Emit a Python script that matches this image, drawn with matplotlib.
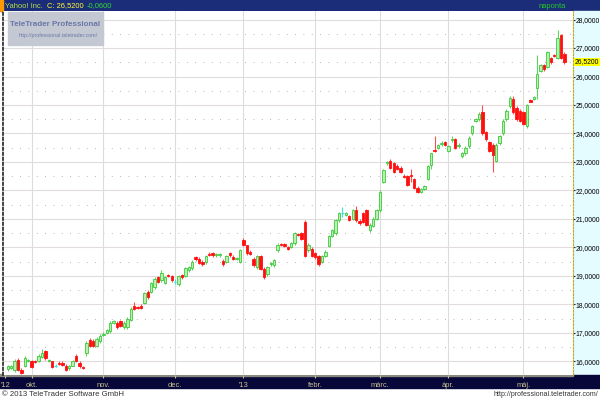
import matplotlib.pyplot as plt
import matplotlib.patches as patches
from matplotlib import font_manager
import numpy as np

# daily OHLC, Yahoo! Inc., Sept 20 2012 .. May 17 2013 (trading days)
opens = [15.72, 15.78, 15.70, 16.05, 15.70, 15.85, 16.00, 16.00, 16.02, 16.00,
         16.15, 16.35, 16.00, 16.00, 15.85, 15.95, 15.95, 15.85, 15.75, 15.85,
         16.20, 15.95, 15.80, 16.30, 16.75, 16.72, 16.55, 16.70, 16.92, 17.00,
         17.05, 17.35, 17.35, 17.40, 17.20, 17.20, 17.45, 17.95, 17.90, 17.95,
         18.05, 18.45, 18.45, 18.60, 18.95, 18.87, 18.75, 19.02, 18.98, 18.80,
         18.70, 19.02, 18.98, 19.20, 19.27, 19.65, 19.60, 19.50, 19.47, 19.78,
         19.80, 19.72, 19.72, 19.54, 19.50, 19.80, 19.68, 19.58, 19.50, 20.27,
         20.07, 19.85, 19.60, 19.30, 19.70, 19.25, 19.05, 19.40, 19.37, 19.90,
         20.12, 20.12, 20.00, 20.03, 20.15, 20.47, 20.50, 20.90, 19.90, 19.95,
         19.80, 19.70, 19.50, 19.70, 20.05, 20.40, 20.50, 20.95, 21.20, 21.15,
         21.10, 21.00, 21.30, 20.93, 21.20, 21.30, 20.60, 20.75, 21.00, 21.30,
         22.30, 22.95, 23.05, 22.95, 22.85, 22.80, 22.52, 22.50, 22.55, 22.40,
         22.10, 21.95, 22.05, 22.40, 22.90, 23.42, 23.50, 23.62, 23.70, 23.40,
         23.78, 23.80, 23.55, 23.20, 23.30, 23.55, 24.00, 24.45, 24.50, 24.75,
         24.05, 23.70, 23.60, 23.05, 23.65, 24.00, 24.50, 24.95, 25.20, 24.90,
         24.80, 24.75, 24.25, 25.17, 25.22, 25.60, 26.20, 26.40, 26.35, 26.65,
         26.77, 26.65, 27.45, 26.80]
highs = [15.88, 15.86, 16.08, 16.10, 15.75, 16.18, 16.08, 16.05, 16.06, 16.25,
         16.42, 16.40, 16.08, 16.02, 15.92, 16.00, 16.00, 15.90, 15.88, 16.05,
         16.25, 16.00, 15.85, 16.70, 16.82, 16.78, 16.85, 16.95, 17.02, 17.15,
         17.40, 17.45, 17.42, 17.45, 17.40, 17.55, 17.92, 18.10, 17.96, 18.00,
         18.45, 18.52, 18.80, 18.95, 19.00, 19.22, 19.00, 19.06, 19.02, 18.90,
         19.02, 19.06, 19.30, 19.35, 19.55, 19.70, 19.65, 19.55, 19.75, 19.85,
         19.84, 19.80, 19.80, 19.60, 19.74, 19.84, 19.72, 19.66, 19.95, 20.32,
         20.10, 19.90, 19.65, 19.75, 19.75, 19.30, 19.35, 19.50, 19.60, 20.15,
         20.16, 20.16, 20.05, 20.20, 20.55, 20.52, 20.55, 20.95, 20.15, 20.00,
         19.85, 19.75, 19.75, 19.90, 20.45, 20.65, 21.00, 21.25, 21.42, 21.25,
         21.15, 21.35, 21.45, 20.98, 21.25, 21.35, 20.85, 21.05, 21.35, 22.00,
         22.75, 23.05, 23.10, 23.00, 22.92, 22.85, 22.58, 22.55, 22.75, 22.45,
         22.15, 22.10, 22.20, 22.90, 23.30, 23.90, 23.62, 23.72, 23.75, 23.60,
         23.90, 23.85, 23.65, 23.35, 23.55, 23.90, 24.30, 24.55, 24.75, 25.00,
         24.10, 23.75, 23.65, 23.65, 23.95, 24.50, 24.85, 25.30, 25.30, 24.95,
         24.85, 24.80, 25.05, 25.22, 25.30, 26.75, 26.45, 26.45, 26.90, 26.70,
         26.80, 27.65, 27.50, 26.85]
lows = [15.66, 15.74, 15.64, 15.66, 15.55, 15.80, 15.96, 15.76, 15.95, 15.96,
        16.10, 16.05, 15.96, 15.76, 15.80, 15.86, 15.84, 15.66, 15.70, 15.82,
        15.96, 15.78, 15.74, 16.20, 16.50, 16.50, 16.50, 16.65, 16.88, 16.96,
        17.00, 17.30, 17.15, 17.20, 17.15, 17.15, 17.40, 17.80, 17.82, 17.82,
        18.00, 18.20, 18.40, 18.55, 18.75, 18.80, 18.70, 18.95, 18.80, 18.72,
        18.65, 18.90, 18.95, 19.15, 19.22, 19.52, 19.40, 19.35, 19.42, 19.70,
        19.68, 19.68, 19.68, 19.35, 19.45, 19.68, 19.55, 19.55, 19.45, 20.05,
        19.75, 19.75, 19.32, 19.25, 19.20, 18.90, 19.00, 19.35, 19.32, 19.85,
        20.04, 20.00, 19.92, 19.98, 20.10, 20.40, 20.25, 19.65, 19.85, 19.65,
        19.60, 19.35, 19.45, 19.65, 20.00, 20.35, 20.45, 20.90, 21.07, 21.10,
        20.92, 20.95, 20.90, 20.80, 20.85, 20.75, 20.55, 20.70, 20.95, 21.25,
        22.25, 22.90, 22.75, 22.60, 22.70, 22.60, 22.45, 22.15, 22.30, 22.05,
        21.90, 21.90, 22.00, 22.35, 22.75, 23.35, 23.45, 23.55, 23.55, 23.35,
        23.70, 23.45, 23.50, 23.15, 23.25, 23.50, 23.95, 24.40, 24.45, 23.95,
        23.75, 23.35, 22.65, 23.00, 23.60, 23.95, 24.45, 24.90, 24.70, 24.45,
        24.40, 24.30, 24.20, 25.10, 25.18, 25.20, 26.15, 26.20, 26.30, 26.45,
        26.70, 26.60, 26.60, 26.45]
closes = [15.84, 15.82, 16.00, 15.70, 15.60, 16.10, 16.03, 15.80, 15.98, 16.20,
          16.30, 16.10, 16.05, 15.80, 15.85, 15.90, 15.87, 15.70, 15.85, 16.00,
          16.00, 15.82, 15.77, 16.65, 16.55, 16.55, 16.80, 16.90, 16.97, 17.10,
          17.35, 17.40, 17.20, 17.25, 17.35, 17.50, 17.85, 17.85, 17.86, 17.86,
          18.40, 18.25, 18.75, 18.90, 18.80, 19.10, 18.95, 18.98, 18.85, 18.80,
          18.98, 18.95, 19.26, 19.30, 19.50, 19.58, 19.45, 19.40, 19.70, 19.74,
          19.72, 19.77, 19.76, 19.40, 19.70, 19.72, 19.60, 19.62, 19.92, 20.10,
          19.80, 19.78, 19.37, 19.70, 19.25, 18.97, 19.30, 19.45, 19.55, 20.10,
          20.08, 20.05, 19.95, 20.15, 20.50, 20.43, 20.30, 19.70, 20.10, 19.70,
          19.65, 19.40, 19.70, 19.85, 20.40, 20.60, 20.95, 21.20, 21.20, 21.20,
          20.97, 21.30, 20.95, 20.85, 20.90, 20.80, 20.80, 21.00, 21.30, 21.95,
          22.70, 23.00, 22.80, 22.65, 22.75, 22.65, 22.47, 22.20, 22.50, 22.10,
          21.95, 22.05, 22.15, 22.85, 23.30, 23.38, 23.58, 23.67, 23.60, 23.55,
          23.82, 23.50, 23.60, 23.30, 23.50, 23.85, 24.25, 24.50, 24.70, 24.00,
          23.80, 23.40, 23.25, 23.60, 23.90, 24.45, 24.80, 25.25, 24.75, 24.50,
          24.45, 24.35, 25.00, 25.12, 25.28, 26.10, 26.40, 26.25, 26.85, 26.50,
          26.72, 27.35, 26.65, 26.52]
prev_close = 26.58

month_labels = ["'12", "okt.", "nov.", "dec.", "'13", "febr.", "márc.", "ápr.", "máj."]
month_idx = [-0.8, 7, 28, 49, 69, 90, 109, 129, 151]
yticks = [16, 17, 18, 19, 20, 21, 22, 23, 24, 25, 26, 27, 28]

plt.rcParams['font.family'] = ['Liberation Sans', 'DejaVu Sans']
installed = {f.name for f in font_manager.fontManager.ttflist}
if 'Liberation Sans Narrow' in installed:
    logo_font, logo_size = 'Liberation Sans Narrow', 7.6
else:
    logo_font, logo_size = 'Liberation Sans', 5.8

last_close = closes[-1]
change = last_close - prev_close
fmt = lambda v: f'{v:.4f}'.replace('.', ',')

fig = plt.figure(figsize=(6, 4), dpi=100)
fig.patch.set_facecolor('white')

def fig_rect(x0, y0, w, h, color, z=-1):
    # rectangle in pixel coords from the top-left corner
    fig.patches.append(patches.Rectangle((x0/600, 1 - (y0 + h)/400), w/600, h/400,
                                         transform=fig.transFigure, color=color, zorder=z))

# header bar
fig_rect(0, 0, 600, 11, '#1b2c78')
fig_rect(0, 0, 3, 11, '#ff9900')

# right axis background and bottom axis bar
fig_rect(573, 11, 27, 364, '#e4fbff')
fig_rect(0, 375, 600, 13, '#07073a')
fig_rect(0, 374, 573, 1.5, '#8a8a80', z=-0.5)

ax = fig.add_axes([3/600, 25/400, 570/600, 364/400])
ax.set_facecolor('white')

t1 = fig.text(5/600, 1 - 6/400, 'Yahoo! Inc.', color='#b8e04a', fontsize=5.4, va='center')
t2 = ax.annotate('C: ' + fmt(last_close), xy=(1, 0.5), xycoords=t1, xytext=(3, 0),
                 textcoords='offset points', color='#ffff33', fontsize=5.4, va='center',
                 annotation_clip=False)
ax.annotate(fmt(change), xy=(1, 0.5), xycoords=t2, xytext=(2, 0),
            textcoords='offset points', color='#33dd33', fontsize=5.4, va='center',
            annotation_clip=False)
fig.text(566/600, 1 - 6/400, 'naponta', color='#22cc22', fontsize=5.4, va='center', ha='right')

x = np.arange(len(closes))
o = np.array(opens)
h = np.array(highs)
l = np.array(lows)
c = np.array(closes)
up = c > o
down = c < o
flat = c == o

ax.vlines(x[up], l[up], h[up], color='#5fd35f', lw=0.8, zorder=3)
ax.vlines(x[down], l[down], h[down], color='#ff5050', lw=0.8, zorder=3)
ax.vlines(x[flat], l[flat], h[flat], color='#40e0e0', lw=0.8, zorder=3)
ax.bar(x[up], (c - o)[up], bottom=o[up], width=0.7, color='#b8f0b0',
       edgecolor='#3cc83c', lw=0.6, zorder=4)
ax.bar(x[down], (o - c)[down], bottom=c[down], width=0.7, color='#ff1010',
       edgecolor='#ff1010', lw=0.6, zorder=4)
ax.hlines(c[flat], x[flat] - 0.35, x[flat] + 0.35, color='#40e0e0', lw=1.0, zorder=4)

ax.set_xlim(-1.4, 165.5)
ax.set_ylim(15.52, 28.3)

# grid
for v in yticks:
    ax.axhline(v, color='#e2dcdc', lw=0.8, zorder=1)
    ax.axhline(v + 0.5, color='#a0a0a0', lw=0.6, ls=(0, (1, 9)), zorder=1)
for m in month_idx[1:]:
    ax.axvline(m, color='#dcdcdc', lw=0.8, zorder=1)

ax.yaxis.tick_right()
ax.set_yticks(yticks)
ax.set_yticklabels([fmt(v) for v in yticks], fontsize=4.9)
ax.tick_params(axis='y', length=1.5, pad=0.5, colors='#222222', labelcolor='black')
ax.set_xticks(month_idx)
ax.set_xticklabels(month_labels, fontsize=5.4, color='#d8d0a0')
ax.tick_params(axis='x', length=2, pad=3, colors='#c8c090')

for s in ['top', 'bottom']:
    ax.spines[s].set_visible(False)
ax.spines['right'].set_color('#c8a820')
ax.spines['right'].set_linestyle((0, (1.5, 1.5)))
ax.spines['left'].set_color('#222222')
ax.spines['left'].set_linestyle((0, (1.5, 1.5)))
ax.spines['left'].set_linewidth(1.2)

# last price marker
ax.annotate(fmt(last_close), xy=(1.0, last_close), xycoords=('axes fraction', 'data'),
            xytext=(1.5, 0), textcoords='offset points', fontsize=4.9, va='center', ha='left',
            bbox=dict(boxstyle='square,pad=0.1', fc='#ffff00', ec='none'), annotation_clip=False)

# watermark
fig_rect(8, 12, 95, 33, '#c4c8d2', z=6)
fig.text(55/600, 1 - 24/400, 'TeleTrader Professional', color='#6a78a8', fontsize=logo_size,
         family=logo_font, ha='center', va='center', fontweight='bold', zorder=7)
fig.text(58/600, 1 - 36/400, 'http://professional.teletrader.com/', color='#6a78a8', fontsize=3.8,
         ha='center', va='center', zorder=7)

# footer
fig.text(2/600, 5.5/400, '© 2013 TeleTrader Software GmbH', fontsize=5.6, color='#333333', va='center')
fig.text(598/600, 5.5/400, 'http://professional.teletrader.com/', fontsize=5, color='#333333',
         va='center', ha='right')

plt.savefig('out.png', dpi=100)
